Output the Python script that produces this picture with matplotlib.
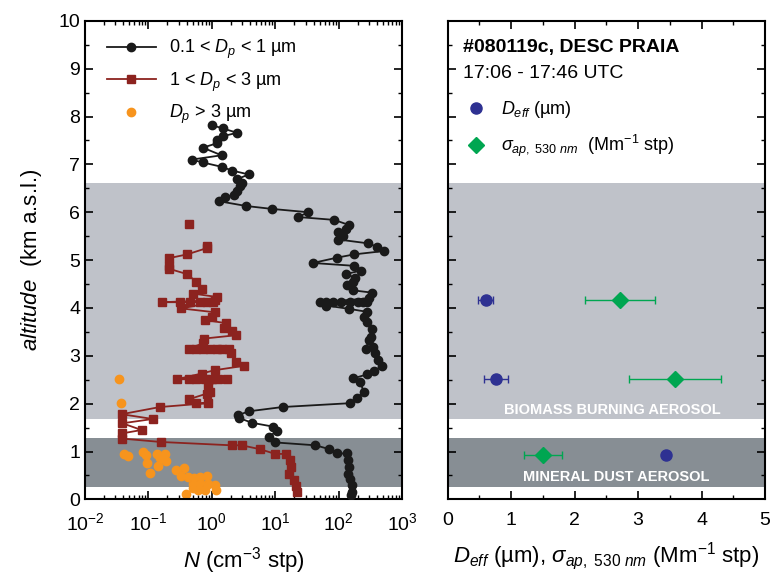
import numpy as np
import matplotlib
matplotlib.use("Agg")
import matplotlib.pyplot as plt
from matplotlib.lines import Line2D
from matplotlib.ticker import MultipleLocator, LogLocator, NullFormatter

plt.rcParams['font.family'] = ['Liberation Sans', 'DejaVu Sans']
plt.rcParams['mathtext.fontset'] = 'custom'
plt.rcParams['mathtext.rm'] = 'Liberation Sans'
plt.rcParams['mathtext.it'] = 'Liberation Sans:italic'
plt.rcParams['mathtext.bf'] = 'Liberation Sans:bold'

# 0.1 < Dp < 1 um (black)
n_fine = [1.0, 1.5, 2.5, 1.5, 1.2, 1.2, 0.72, 1.42, 0.48, 0.72, 1.42, 2.1, 3.8, 2.5, 2.95, 2.8,
          2.5, 2.2, 1.6, 1.3, 3.5, 8.8, 33, 23, 85, 147, 131, 96, 118, 99, 290, 400, 520, 176,
          93, 39, 176, 222, 131, 180, 170, 135, 165, 333, 300, 50, 64, 82, 110, 150, 200, 240,
          280, 64, 147, 277, 246, 277, 333, 320, 300, 265, 350, 370, 420, 475, 360, 277, 170,
          218, 246, 192, 150, 13, 3.8, 2.6, 2.7, 4.3, 9.3, 10.7, 7.9, 10, 43, 71, 93, 133, 140,
          145, 140, 150, 160, 160, 155]
alt_fine = [7.82, 7.75, 7.66, 7.59, 7.51, 7.44, 7.35, 7.19, 7.10, 7.04, 6.95, 6.87, 6.79, 6.69,
            6.62, 6.55, 6.45, 6.36, 6.31, 6.23, 6.13, 6.07, 6.0, 5.9, 5.84, 5.73, 5.66, 5.59, 5.5,
            5.43, 5.35, 5.28, 5.19, 5.12, 5.05, 4.94, 4.88, 4.78, 4.71, 4.63, 4.55, 4.48, 4.37,
            4.32, 4.2, 4.12, 4.12, 4.12, 4.12, 4.12, 4.12, 4.12, 4.12, 4.05, 3.98, 3.92, 3.82,
            3.71, 3.57, 3.40, 3.33, 3.15, 3.19, 3.05, 2.91, 2.79, 2.68, 2.61, 2.53, 2.46, 2.25,
            2.11, 2.01, 1.93, 1.84, 1.76, 1.70, 1.60, 1.52, 1.43, 1.31, 1.19, 1.13, 1.05, 0.96,
            0.96, 0.82, 0.68, 0.54, 0.42, 0.30, 0.16, 0.10]

# 1 < Dp < 3 um (dark red), nan breaks the line
n_mid = [0.43, np.nan, 0.83, 0.83, 0.41, 0.21, 0.21, 0.21, 0.40, 0.57, 0.69, 0.51, 1.19, 1.11,
         0.162, 0.31, 0.45, 0.65, 0.83, 1.06, 0.33, 1.11, 0.99, 0.78, 1.70, 1.55, 2.1, 2.4,
         0.75, 0.73, 0.43, 0.57, 0.73, 0.93, 1.19, 1.43, 1.89, 2.04, 2.4, 3.2, 1.11, 0.69,
         0.28, 0.43, 0.57, 0.78, 0.99, 1.27, 1.71, 0.88, 0.93, 0.83, 0.43, 0.57, 0.86, 0.152,
         0.038, 0.117, 0.039, 0.078, 0.039, 0.039, 0.156, 2.05, 2.95, 5.7, 10, 15, 17, 17.5,
         16.5, 19.6, 21, 22]
alt_mid = [5.75, np.nan, 5.30, 5.25, 5.12, 5.04, 4.88, 4.82, 4.71, 4.55, 4.39, 4.30, 4.23, 4.16,
           4.12, 4.12, 4.12, 4.12, 4.12, 4.12, 3.99, 3.91, 3.82, 3.75, 3.68, 3.59, 3.52, 3.43,
           3.36, 3.26, 3.15, 3.15, 3.15, 3.15, 3.15, 3.15, 3.15, 3.05, 2.87, 2.79, 2.70, 2.63,
           2.51, 2.51, 2.51, 2.51, 2.51, 2.51, 2.51, 2.39, 2.25, 2.21, 2.09, 2.01, 2.01, 1.93,
           1.78, 1.68, 1.59, 1.45, 1.38, 1.27, 1.20, 1.13, 1.13, 1.05, 0.95, 0.95, 0.82, 0.68,
           0.54, 0.40, 0.27, 0.16]

# Dp > 3 um (orange)
n_coarse = [0.034, 0.037, 0.041, 0.048, 0.081, 0.091, 0.135, 0.152, 0.18, 0.19, 0.096, 0.143,
            0.108, 0.27, 0.36, 0.33, 0.42, 0.52, 0.66, 0.83, 0.51, 0.65, 0.88, 0.50, 0.61, 0.78,
            1.11, 1.16, 0.39]
alt_coarse = [2.51, 2.01, 0.94, 0.90, 0.99, 0.93, 0.95, 0.86, 0.95, 0.81, 0.77, 0.70, 0.56, 0.61,
              0.66, 0.49, 0.46, 0.44, 0.46, 0.49, 0.32, 0.35, 0.33, 0.24, 0.19, 0.19, 0.30, 0.19,
              0.11]

# right panel
alt_layers = [4.16, 2.51, 0.92]
d_eff = [0.6, 0.76, 3.44]
d_eff_err = [0.12, 0.19, 0.0]
sigma_ap = [2.71, 3.58, 1.50]
sigma_ap_err = [0.55, 0.73, 0.30]

bb_layer = (1.68, 6.61)
md_layer = (0.25, 1.28)

light_grey = '#bfc2c9'
dark_grey = '#878e94'
blue = '#2e3192'
green = '#00a651'

fig = plt.figure(figsize=(7.72, 5.78), dpi=100)
ax1 = fig.add_axes([0.110, 0.136, 0.411, 0.828])
ax2 = fig.add_axes([0.580, 0.136, 0.411, 0.828])

for ax in (ax1, ax2):
    ax.axhspan(*bb_layer, color=light_grey, lw=0, zorder=0)
    ax.axhspan(*md_layer, color=dark_grey, lw=0, zorder=0)
    ax.set_ylim(0, 10)
    ax.yaxis.set_major_locator(MultipleLocator(1))
    ax.yaxis.set_minor_locator(MultipleLocator(0.5))
    ax.tick_params(which='both', direction='in', top=True, right=True, labelsize=14)
    ax.tick_params(which='major', length=6, width=1.2)
    ax.tick_params(which='minor', length=3, width=1.0)
    ax.tick_params(axis='x', pad=9)
    for s in ax.spines.values():
        s.set_linewidth(1.5)

ax1.plot(n_fine, alt_fine, '-o', color='#1a1a1a', ms=6, lw=1.3,
         label=r'0.1 < $D_p$ < 1 µm', zorder=4)
ax1.plot(n_mid, alt_mid, '-s', color='#8c231f', ms=5.8, lw=1.3,
         label=r'1 < $D_p$ < 3 µm', zorder=3)
ax1.plot(n_coarse, alt_coarse, 'o', color='#f7941d', ms=6, lw=0,
         label=r'$D_p$ > 3 µm', zorder=2)
ax1.set_xscale('log')
ax1.set_xlim(1e-2, 1e3)
ax1.xaxis.set_major_locator(LogLocator(base=10, numticks=10))
ax1.xaxis.set_minor_locator(LogLocator(base=10, subs=np.arange(2, 10), numticks=20))
ax1.xaxis.set_minor_formatter(NullFormatter())
ax1.set_xlabel(r'$N$ (cm$^{-3}$ stp)', fontsize=16, labelpad=8)
ax1.set_ylabel(r'$altitude$  (km a.s.l.)', fontsize=16, labelpad=10)
ax1.legend(loc='upper left', bbox_to_anchor=(0.03, 0.99), frameon=False, fontsize=13,
           handlelength=2.7, handletextpad=0.75, labelspacing=0.5, borderaxespad=0.3)

ax2.errorbar(d_eff, alt_layers, xerr=d_eff_err, fmt='o', color=blue, ms=8,
             capsize=3, elinewidth=1, zorder=3)
ax2.errorbar(sigma_ap, alt_layers, xerr=sigma_ap_err, fmt='D', color=green, ms=8,
             capsize=3, elinewidth=1, zorder=3)
ax2.set_xlim(0, 5)
ax2.xaxis.set_major_locator(MultipleLocator(1))
ax2.xaxis.set_minor_locator(MultipleLocator(0.5))
ax2.tick_params(axis='y', labelleft=False)
ax2.set_xlabel(r'$D_{eff}$ (µm), $\sigma_{ap,\ 530\ nm}$ (Mm$^{-1}$ stp)', fontsize=16, labelpad=8)
ax2.text(0.047, 0.945, '#080119c, DESC PRAIA', transform=ax2.transAxes, fontsize=14,
         fontweight='bold', va='center')
ax2.text(0.047, 0.89, '17:06 - 17:46 UTC', transform=ax2.transAxes, fontsize=14, va='center')
handles = [Line2D([], [], marker='o', color=blue, ls='none', ms=8),
           Line2D([], [], marker='D', color=green, ls='none', ms=8)]
ax2.legend(handles, [r'$D_{eff}$ (µm)', r'$\sigma_{ap,\ 530\ nm}$  (Mm$^{-1}$ stp)'],
           loc='upper left', bbox_to_anchor=(0.01, 0.87), frameon=False, fontsize=13,
           handlelength=1.0, handletextpad=0.9, labelspacing=0.7)
ax2.text(2.6, 1.86, 'BIOMASS BURNING AEROSOL', color='white', fontsize=10.5,
         fontweight='bold', ha='center', va='center')
ax2.text(2.65, 0.46, 'MINERAL DUST AEROSOL', color='white', fontsize=10.5,
         fontweight='bold', ha='center', va='center')

fig.savefig('out.png', dpi=100)
